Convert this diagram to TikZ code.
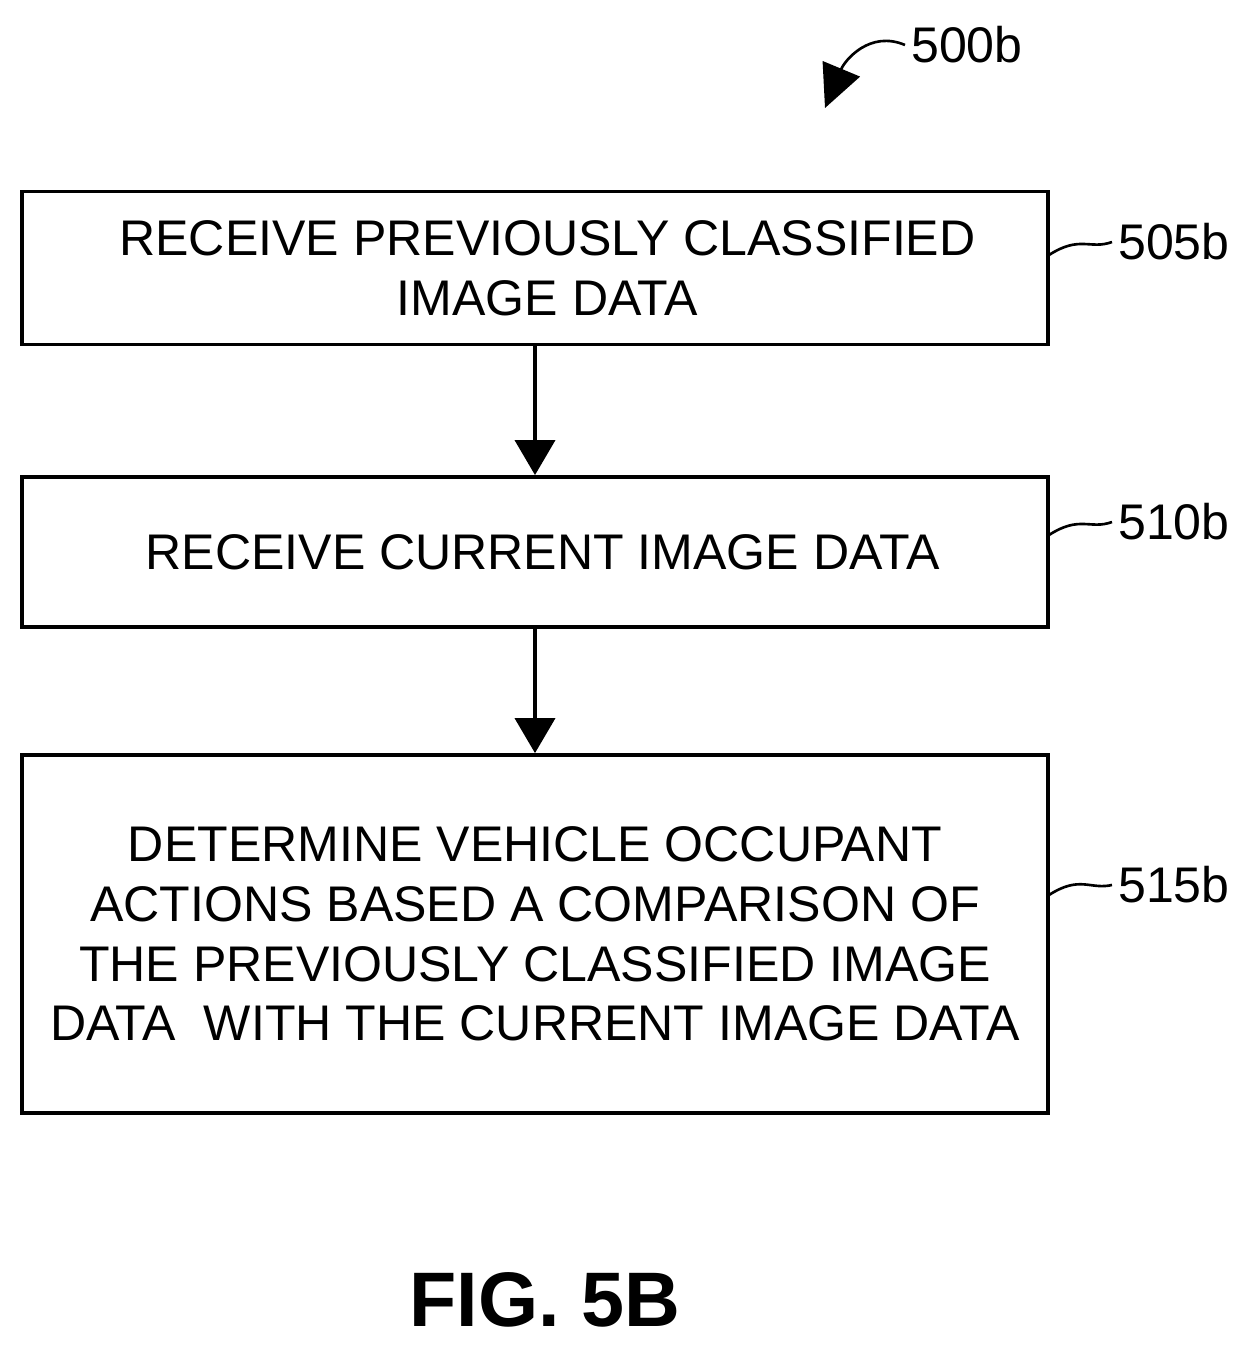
\documentclass[tikz,border=0pt]{standalone}
\usepackage{fontspec}
\setmainfont{Liberation Sans}
\usetikzlibrary{arrows.meta,positioning}

\begin{document}
\begin{tikzpicture}[x=0.02cm,y=-0.02cm,
  every node/.style={align=center,font=\fontsize{28.5}{34}\selectfont},%
  box/.style={draw,line width=2.2pt,minimum width=20.54cm},%
  e/.style={-{Triangle[length=0.7cm,width=0.8cm]},line width=2.2pt},%
  lbl/.style={anchor=west},%
  ]
  \useasboundingbox (0,0) rectangle (1246,1347);

  \node (receiveprev) [box,minimum height=3.06cm] at (535,268)
    {\hspace*{0.5cm}RECEIVE PREVIOUSLY CLASSIFIED\\\hspace*{0.5cm}IMAGE DATA};
  \node (receivecur) [box,minimum height=3.0cm] at (535,552)
    {\hspace*{0.3cm}RECEIVE CURRENT IMAGE DATA};
  \node (determine) [box,minimum height=7.16cm] at (535,934)
    {DETERMINE VEHICLE OCCUPANT\\ACTIONS BASED A COMPARISON OF\\THE PREVIOUSLY CLASSIFIED IMAGE\\DATA\ \ WITH THE CURRENT IMAGE DATA};

  \draw [e] (receiveprev) -- (receivecur);
  \draw [e] (receivecur) -- (determine);

  % reference labels
  \node (l505) [lbl] at (1112,242) {505b};
  \node (l510) [lbl] at (1112,522) {510b};
  \node (l515) [lbl] at (1112,885) {515b};
  \node (l500) [lbl] at (905,45) {500b};
  \coordinate (c505) at (1049,255);
  \coordinate (c510) at (1049,535);
  \coordinate (c515) at (1049,895);
  \draw [line width=1.5pt] (c505) .. controls (1080,235) and (1090,250) .. (l505.west);
  \draw [line width=1.5pt] (c510) .. controls (1080,515) and (1090,530) .. (l510.west);
  \draw [line width=1.5pt] (c515) .. controls (1080,875) and (1090,890) .. (l515.west);
  \coordinate (tip500) at (825,108);
  \draw [-{Triangle[length=0.85cm,width=0.8cm]},line width=1.5pt]
    (l500.west) .. controls (870,30) and (845,60) .. (tip500);

  \node (fig) at (545,1300) {\fontsize{44}{50}\selectfont\bfseries FIG. 5B};
\end{tikzpicture}
\end{document}
